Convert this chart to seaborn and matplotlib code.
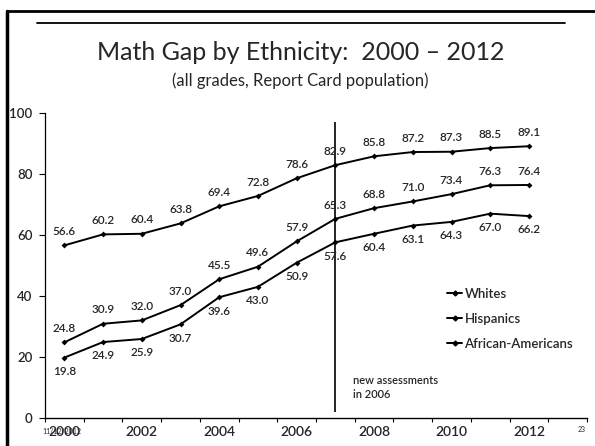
"""Math gap by ethnicity, 2000-2012 (slide recreation)."""
import numpy as np
import pandas as pd
import matplotlib
matplotlib.use('Agg')
import matplotlib.pyplot as plt
from matplotlib.lines import Line2D
import seaborn as sns

years = list(range(2000, 2013))
whites = [56.6, 60.2, 60.4, 63.8, 69.4, 72.8, 78.6, 82.9, 85.8, 87.2, 87.3, 88.5, 89.1]
hispanics = [24.8, 30.9, 32.0, 37.0, 45.5, 49.6, 57.9, 65.3, 68.8, 71.0, 73.4, 76.3, 76.4]
african_americans = [19.8, 24.9, 25.9, 30.7, 39.6, 43.0, 50.9, 57.6, 60.4, 63.1, 64.3, 67.0, 66.2]
groups = ['Whites', 'Hispanics', 'African-Americans']
tick_years = [2000, 2002, 2004, 2006, 2008, 2010, 2012]

df = pd.DataFrame({
    'idx': list(range(len(years))) * 3,
    'score': whites + hispanics + african_americans,
    'group': [g for g in groups for _ in years],
})

sns.set_style('white')
plt.rcParams['font.family'] = ['Lato', 'DejaVu Sans']

fig = plt.figure(figsize=(5.95, 4.46), dpi=100)
ax = fig.add_axes([45 / 595, 1 - 418 / 446, 542 / 595, 305 / 446])

sns.lineplot(
    data=df, x='idx', y='score', hue='group', hue_order=groups,
    palette=['black'] * 3, marker='D', markersize=3, markeredgewidth=0,
    linewidth=1.4, ax=ax, legend=False
)

# data labels: whites and hispanics above, african-americans below
for vals, dy, va in [(whites, 6, 'bottom'), (hispanics, 6, 'bottom'),
                     (african_americans, -6, 'top')]:
    for i, v in enumerate(vals):
        ax.annotate(f'{v:.1f}', (i, v), xytext=(0, dy), textcoords='offset points',
                    ha='center', va=va, fontsize=8.5, fontweight='semibold')

# new assessment marker
ax.vlines(7, 2, 97, color='black', linewidth=1.2)
ax.text(7.45, 10, 'new assessments\nin 2006', fontsize=8, va='center',
        ha='left', linespacing=1.35, fontweight='semibold')

ax.set_xlim(-0.5, 13.5)
ax.set_ylim(0, 100)
ax.set_yticks([0, 20, 40, 60, 80, 100])
ax.set_xticks([y - 2000 for y in tick_years])
ax.set_xticklabels([str(y) for y in tick_years], fontweight='semibold')
ax.set_xticks(np.arange(-0.5, 14, 1), minor=True)
ax.tick_params(axis='x', which='major', length=0, labelsize=10, pad=6)
ax.tick_params(axis='x', which='minor', length=3, width=0.8, direction='out',
               bottom=True, color='black')
ax.tick_params(axis='y', length=4, width=0.8, direction='out', left=True,
               labelsize=9.5, pad=5, color='black')
for lbl in ax.get_yticklabels():
    lbl.set_fontweight('semibold')
ax.set_xlabel('')
ax.set_ylabel('')
for s in ['top', 'right']:
    ax.spines[s].set_visible(False)
ax.spines['left'].set_linestyle((0, (2, 1)))
ax.spines['left'].set_linewidth(0.9)
ax.spines['left'].set_color('black')
ax.spines['bottom'].set_linewidth(1.0)
ax.spines['bottom'].set_color('black')

# legend
handles = [Line2D([], [], color='black', linewidth=1.4, marker='D', markersize=2.5)
           for _ in groups]
fig.legend(handles, groups, loc='upper left', bbox_to_anchor=(440 / 595, 1 - 281 / 446),
           frameon=False, fontsize=9.5, handlelength=1.2, handletextpad=0.15,
           labelspacing=1.0, borderpad=0, prop={'size': 9.5, 'weight': 'semibold'})

# slide decorations
fig.text(0.505, 1 - 53 / 446, 'Math Gap by Ethnicity:  2000 \u2013 2012',
         ha='center', va='center', fontsize=18)
fig.text(0.505, 1 - 81 / 446, '(all grades, Report Card population)',
         ha='center', va='center', fontsize=12)
fig.add_artist(Line2D([37 / 595, 565 / 595], [1 - 23 / 446] * 2, color='black', linewidth=1.3))
fig.add_artist(Line2D([7 / 595, 7 / 595], [0, 1 - 11 / 446], color='black', linewidth=2.5))
fig.add_artist(Line2D([7 / 595, 1], [1 - 11 / 446] * 2, color='black', linewidth=2))
fig.text(42 / 595, 1 - 431 / 446, '11/12/2012', fontsize=5, va='center', ha='left')
fig.text(578 / 595, 1 - 430 / 446, '23', fontsize=5, va='center', ha='left')

fig.savefig('out.png', dpi=100)
